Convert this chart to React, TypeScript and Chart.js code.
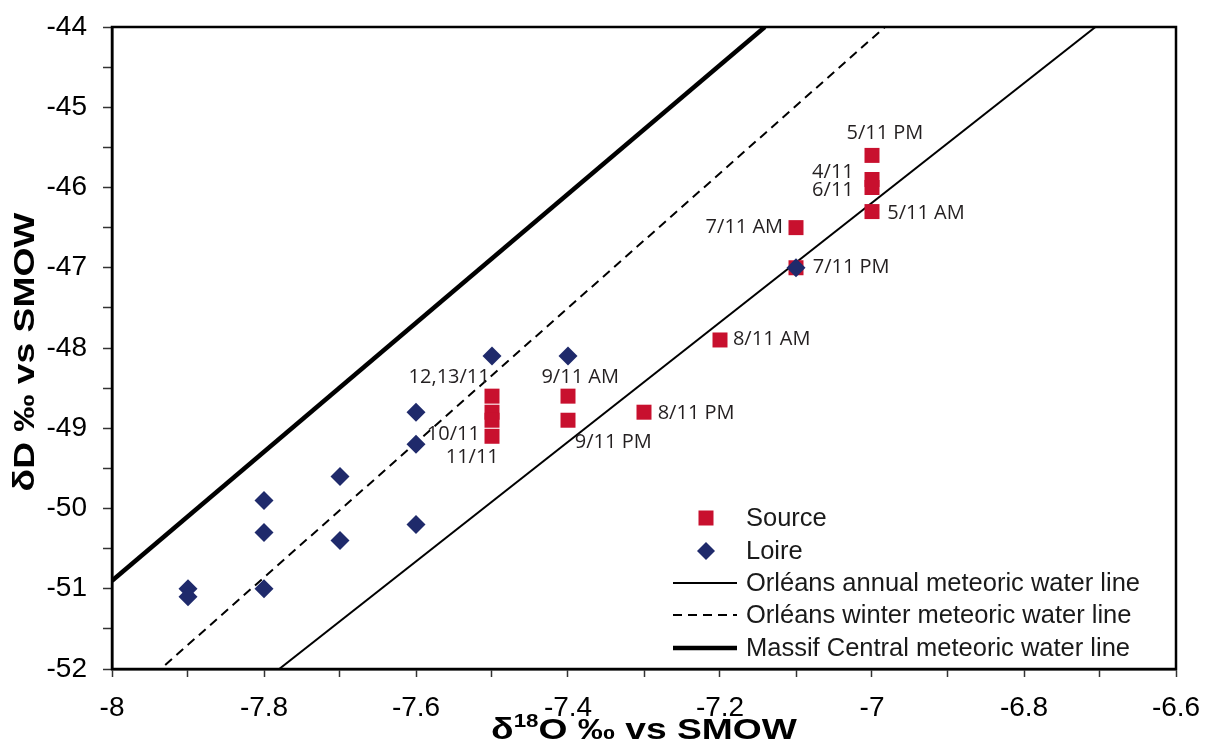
import React, { useEffect, useRef } from "react";
import { Chart, registerables } from "chart.js";

Chart.register(...registerables);

// ---------- data ----------
const sourceX = [-7.0, -7.0, -7.0, -7.0, -7.1, -7.1, -7.2, -7.3, -7.4, -7.4, -7.5, -7.5, -7.5, -7.5];
const sourceY = [-45.6, -45.9, -46.0, -46.3, -46.5, -47.0, -47.9, -48.8, -48.6, -48.9, -48.6, -48.8, -48.9, -49.1];

const loireX = [-7.1, -7.5, -7.4, -7.6, -7.6, -7.7, -7.8, -7.8, -7.7, -7.6, -7.8, -7.9, -7.9];
const loireY = [-47.0, -48.1, -48.1, -48.8, -49.2, -49.6, -49.9, -50.3, -50.4, -50.2, -51.0, -51.0, -51.1];

const annualLineX = [-7.78, -6.706];
const annualLineY = [-52, -44];
const winterLineX = [-7.93, -6.983];
const winterLineY = [-51.95, -44];
const massifLineX = [-8, -7.141];
const massifLineY = [-50.9, -44];

const xMajorTicks = [-8, -7.8, -7.6, -7.4, -7.2, -7, -6.8, -6.6];
const yMajorTicks = [-52, -51, -50, -49, -48, -47, -46, -45, -44];

// point annotations: text, anchor (data units), alignment
const labelTexts = ["5/11 PM", "4/11", "6/11", "5/11 AM", "7/11 AM", "7/11 PM", "8/11 AM", "8/11 PM", "9/11 AM", "9/11 PM", "12,13/11", "10/11", "11/11"];
const labelX = [-6.983, -7.024, -7.024, -6.98, -7.117, -7.078, -7.183, -7.282, -7.384, -7.391, -7.503, -7.516, -7.526];
const labelY = [-45.32, -45.81, -46.04, -46.32, -46.5, -46.99, -47.89, -48.81, -48.37, -49.17, -48.37, -49.08, -49.36];
const labelAlign: CanvasTextAlign[] = ["center", "right", "right", "left", "right", "left", "left", "left", "center", "left", "right", "right", "center"];

const legendNames = ["Source", "Loire", "Orléans annual meteoric water line", "Orléans winter meteoric water line", "Massif Central meteoric water line"];

// ---------- styles ----------
const RED = "#C8102E";
const NAVY = "#1F2A6B";
const TICK_FONT = "'Liberation Sans', Arial, sans-serif";
const LABEL_FONT = "'Open Sans', 'Noto Sans', sans-serif";

const pts = (xs: number[], ys: number[]) => xs.map((x, i) => ({ x, y: ys[i] }));
const withMinors = (majors: number[]) => {
  const out: number[] = [];
  for (let i = 0; i < majors.length; i++) {
    out.push(majors[i]);
    if (i < majors.length - 1) out.push(+((majors[i] + majors[i + 1]) / 2).toFixed(3));
  }
  return out;
};
const isMajor = (majors: number[], v: number) => majors.some((m) => Math.abs(m - v) < 1e-6);

const overlayPlugin = {
  id: "overlay",
  afterDraw(chart: any) {
    const { ctx, chartArea, scales } = chart;
    const xs = scales.x;
    const ys = scales.y;
    ctx.save();
    // frame
    ctx.strokeStyle = "#000";
    ctx.lineWidth = 2.5;
    ctx.strokeRect(chartArea.left, chartArea.top, chartArea.right - chartArea.left, chartArea.bottom - chartArea.top);

    // point labels
    ctx.fillStyle = "#231F20";
    ctx.font = `20px ${LABEL_FONT}`;
    ctx.textBaseline = "middle";
    labelTexts.forEach((t, i) => {
      ctx.textAlign = labelAlign[i];
      ctx.fillText(t, xs.getPixelForValue(labelX[i]), ys.getPixelForValue(labelY[i]));
    });

    // legend
    const lx = 706;
    const lineL = 673;
    const lineR = 737;
    const tx = 746;
    const rows = [518, 551, 583, 615, 648];
    ctx.font = `25.5px ${TICK_FONT}`;
    ctx.textAlign = "left";
    ctx.textBaseline = "middle";
    ctx.fillStyle = "#1a1a1a";
    legendNames.forEach((n, i) => ctx.fillText(n, tx, rows[i] + 1));
    ctx.fillStyle = RED;
    ctx.fillRect(lx - 7.5, rows[0] - 7.5, 15, 15);
    ctx.fillStyle = NAVY;
    ctx.beginPath();
    ctx.moveTo(lx, rows[1] - 9);
    ctx.lineTo(lx + 9, rows[1]);
    ctx.lineTo(lx, rows[1] + 9);
    ctx.lineTo(lx - 9, rows[1]);
    ctx.closePath();
    ctx.fill();
    ctx.strokeStyle = "#000";
    const drawL = (y: number, w: number, dash: number[]) => {
      ctx.lineWidth = w;
      ctx.setLineDash(dash);
      ctx.beginPath();
      ctx.moveTo(lineL, y);
      ctx.lineTo(lineR, y);
      ctx.stroke();
    };
    drawL(rows[2], 2, []);
    drawL(rows[3], 2, [9, 6]);
    drawL(rows[4], 4.5, []);
    ctx.setLineDash([]);

    // axis titles (the reference type is horizontally stretched)
    const STRETCH = 1.24;
    const big = `bold 30px ${TICK_FONT}`;
    const small = `bold 18px ${TICK_FONT}`;
    ctx.fillStyle = "#000";
    // y title
    ctx.save();
    ctx.translate(26, (chartArea.top + chartArea.bottom) / 2 + 4);
    ctx.rotate(-Math.PI / 2);
    ctx.scale(STRETCH, 1);
    ctx.font = big;
    ctx.textAlign = "center";
    ctx.textBaseline = "middle";
    ctx.fillText("δD ‰ vs SMOW", 0, 0);
    ctx.restore();
    // x title with superscript
    ctx.save();
    ctx.textAlign = "left";
    ctx.textBaseline = "alphabetic";
    ctx.font = big;
    const w1 = ctx.measureText("δ").width;
    const w3 = ctx.measureText("O ‰ vs SMOW").width;
    ctx.font = small;
    const w2 = ctx.measureText("18").width;
    const total = (w1 + w2 + w3) * STRETCH;
    ctx.translate((chartArea.left + chartArea.right) / 2 - total / 2, 739);
    ctx.scale(STRETCH, 1);
    let x0 = 0;
    ctx.font = big;
    ctx.fillText("δ", x0, 0);
    x0 += w1;
    ctx.font = small;
    ctx.fillText("18", x0, -12);
    x0 += w2;
    ctx.font = big;
    ctx.fillText("O ‰ vs SMOW", x0, 0);
    ctx.restore();
    ctx.restore();
  },
};

export default function App() {
  const ref = useRef<HTMLCanvasElement | null>(null);
  useEffect(() => {
    if (!ref.current) return;
    const chart = new Chart(ref.current, {
      type: "scatter",
      data: {
        datasets: [
          {
            label: "Loire",
            data: pts(loireX, loireY),
            pointStyle: "rectRot",
            pointRadius: 9.5,
            backgroundColor: NAVY,
            borderColor: NAVY,
            borderWidth: 0,
          },
          {
            label: "Source",
            data: pts(sourceX, sourceY),
            pointStyle: "rect",
            pointRadius: 10.6,
            backgroundColor: RED,
            borderColor: RED,
            borderWidth: 0,
          },
          {
            label: "Orléans annual meteoric water line",
            data: pts(annualLineX, annualLineY),
            showLine: true,
            pointRadius: 0,
            borderColor: "#000",
            borderWidth: 2,
          },
          {
            label: "Orléans winter meteoric water line",
            data: pts(winterLineX, winterLineY),
            showLine: true,
            pointRadius: 0,
            borderColor: "#000",
            borderWidth: 2,
            borderDash: [9, 6],
          },
          {
            label: "Massif Central meteoric water line",
            data: pts(massifLineX, massifLineY),
            showLine: true,
            pointRadius: 0,
            borderColor: "#000",
            borderWidth: 4.5,
          },
        ],
      } as any,
      options: {
        responsive: false,
        animation: false,
        events: [],
        layout: { padding: { left: 0, top: 27, right: 29, bottom: 0 } },
        plugins: { legend: { display: false }, tooltip: { enabled: false } },
        scales: {
          x: {
            type: "linear",
            min: -8,
            max: -6.6,
            afterBuildTicks: (s: any) => {
              s.ticks = withMinors(xMajorTicks).map((v) => ({ value: v }));
            },
            afterFit: (s: any) => {
              s.height = 74;
              s.paddingLeft = 0;
              s.paddingRight = 0;
            },
            ticks: {
              autoSkip: false,
              maxRotation: 0,
              color: "#000",
              padding: 14,
              font: { family: TICK_FONT, size: 28 },
              callback: (v: any) => (isMajor(xMajorTicks, Number(v)) ? String(Number(Number(v).toFixed(1))) : ""),
            },
            grid: { drawOnChartArea: false, drawTicks: true, tickLength: 8, tickColor: "#333", tickWidth: 1.5 },
            border: { display: true, color: "#000", width: 2.5 },
          },
          y: {
            type: "linear",
            min: -52,
            max: -44,
            afterBuildTicks: (s: any) => {
              s.ticks = withMinors(yMajorTicks).map((v) => ({ value: v }));
            },
            afterFit: (s: any) => {
              s.width = 112;
              s.paddingTop = 0;
              s.paddingBottom = 0;
            },
            ticks: {
              autoSkip: false,
              color: "#000",
              padding: 16,
              font: { family: TICK_FONT, size: 28 },
              callback: (v: any) => (isMajor(yMajorTicks, Number(v)) ? String(Number(v)) : ""),
            },
            grid: { drawOnChartArea: false, drawTicks: true, tickLength: 9, tickColor: "#333", tickWidth: 1.5 },
            border: { display: true, color: "#000", width: 2.5 },
          },
        },
      } as any,
      plugins: [overlayPlugin],
    });
    return () => chart.destroy();
  }, []);
  return (
    <div style={{ position: "fixed", left: 0, top: 0, width: 1205, height: 743, background: "#fff" }}>
      <canvas ref={ref} width={1205} height={743} style={{ width: 1205, height: 743, display: "block" }} />
    </div>
  );
}
